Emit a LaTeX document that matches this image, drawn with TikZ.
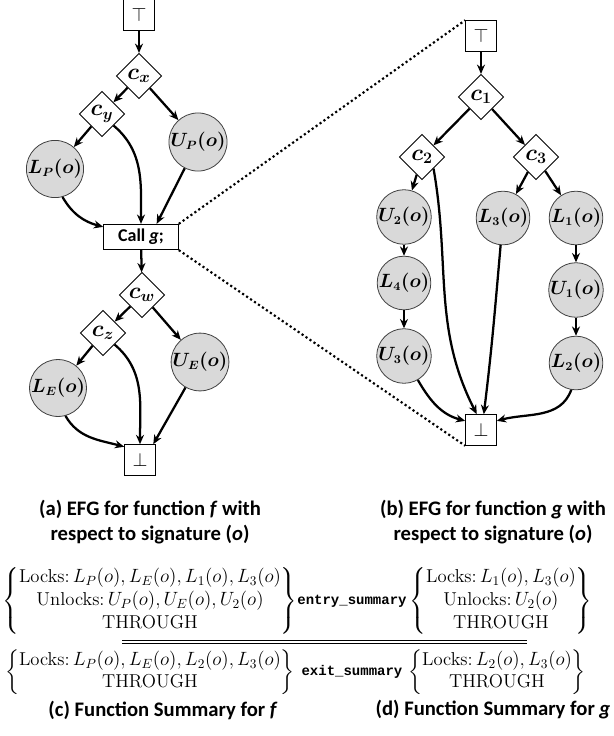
\documentclass[tikz,border=0pt]{standalone}
\usepackage{amsmath, amssymb}
\usepackage{fontspec}
\setsansfont{Carlito}
\setmonofont{Liberation Mono}
\usetikzlibrary{arrows.meta, shapes.geometric}

\begin{document}
\begin{tikzpicture}[x=0.75pt, y=0.75pt, >={Stealth[length=7pt, width=6pt]},
  flow/.style={->, line width=1.7pt},
  cond/.style={diamond, draw, line width=0.6pt, fill=white, inner sep=0pt, minimum size=34pt, font=\fontsize{18}{18}\selectfont\boldmath},
  lockop/.style={circle, draw=black!75, line width=0.6pt, fill=black!15, inner sep=0pt, minimum size=39pt, font=\fontsize{13.5}{13.5}\selectfont\boldmath},
  term/.style={rectangle, draw, line width=0.7pt, inner sep=0pt, minimum size=23pt, font=\Large},
  callbox/.style={rectangle, draw, line width=0.7pt, inner sep=0pt, minimum width=56pt, minimum height=19pt, font=\sffamily\bfseries\fontsize{13.5}{13.5}\selectfont},
  caption/.style={align=center, inner sep=0pt, font=\sffamily\bfseries\fontsize{15.5}{19}\selectfont},
  summary/.style={inner sep=0pt, font=\fontsize{14}{17}\selectfont},
  sumlabel/.style={inner sep=0pt, font=\ttfamily\bfseries\fontsize{10.5}{10.5}\selectfont}]
\useasboundingbox (0,0) rectangle (614,-736);

\node[term] (ftop) at (139,-15) {$\top$};
\node[cond] (cx) at (139,-76) {$c_x$};
\node[cond] (cy) at (102,-114) {$c_y$};
\node[lockop] (up) at (198,-142) {$U_P(o)$};
\node[lockop] (lp) at (55,-169) {$L_P(o)$};
\node[callbox] (call) at (141,-237) {Call \textit{g};};
\node[cond] (cw) at (142,-295) {$c_w$};
\node[cond] (cz) at (103,-333) {$c_z$};
\node[lockop] (ue) at (200,-362) {$U_E(o)$};
\node[lockop] (le) at (58,-388) {$L_E(o)$};
\node[term] (fbot) at (140,-460) {$\bot$};

\draw[flow] (ftop) -- (cx);
\draw[flow] (cx) -- (cy);
\draw[flow] (cx) -- (up);
\draw[flow] (cy) -- (lp);
\draw[flow] (cy.south east) to[out=-40, in=90] (call.north);
\draw[flow] (lp.-75) to[out=-60, in=165] (call.165);
\draw[flow] (up) -- (call.40);
\draw[flow] (call) -- (cw);
\draw[flow] (cw) -- (cz);
\draw[flow] (cw) -- (ue);
\draw[flow] (cz) -- (le);
\draw[flow] (cz.south east) to[out=-40, in=90] (fbot.north);
\draw[flow] (le.-75) to[out=-60, in=165] (fbot.140);
\draw[flow] (ue) -- (fbot.50);

\node[term] (gtop) at (481,-36) {$\top$};
\node[cond] (c1) at (481,-97) {$c_1$};
\node[cond] (c2) at (422,-157) {$c_2$};
\node[cond] (c3) at (536,-157) {$c_3$};
\node[lockop] (u2) at (404,-217) {$U_2(o)$};
\node[lockop] (l3) at (503,-218) {$L_3(o)$};
\node[lockop] (l1) at (576,-218) {$L_1(o)$};
\node[lockop] (l4) at (404,-283) {$L_4(o)$};
\node[lockop] (u1) at (576,-290) {$U_1(o)$};
\node[lockop] (u3) at (404,-356) {$U_3(o)$};
\node[lockop] (l2) at (576,-363) {$L_2(o)$};
\node[term] (gbot) at (481,-430) {$\bot$};

\draw[flow] (gtop) -- (c1);
\draw[flow] (c1) -- (c2);
\draw[flow] (c1) -- (c3);
\draw[flow] (c2) -- (u2);
\draw[flow] (c3) -- (l3);
\draw[flow] (c3) -- (l1);
\draw[flow] (u2) -- (l4);
\draw[flow] (l4) -- (u3);
\draw[flow] (l1) -- (u1);
\draw[flow] (u1) -- (l2);
\draw[flow] (c2.south east) to[out=-80, in=117] (gbot.105);
\draw[flow] (l3) to[out=-95, in=83] (gbot.80);
\draw[flow] (u3.-60) to[out=-60, in=165] (gbot.150);
\draw[flow] (l2.-100) to[out=-110, in=15] (gbot.30);

\draw[dotted, line width=1.6pt] (call.north east) -- (gtop.north west);
\draw[dotted, line width=1.6pt] (call.south east) -- (gbot.south west);

\node[caption] (capa) at (150,-522) {(a) EFG for function \textit{f} with\\respect to signature (\textit{o})};
\node[caption] (capb) at (493,-522) {(b) EFG for function \textit{g} with\\respect to signature (\textit{o})};

\node[summary] (fentry) at (150,-601) {$\left\{\begin{array}{@{}c@{}}
  \text{Locks:}\,L_P(o), L_E(o), L_1(o), L_3(o)\\
  \text{Unlocks:}\,U_P(o), U_E(o), U_2(o)\\
  \text{THROUGH}\end{array}\right\}$};
\node[sumlabel] (entrylbl) at (352,-601) {entry\_summary};
\node[summary] (gentry) at (501,-601) {$\left\{\begin{array}{@{}c@{}}
  \text{Locks:}\,L_1(o), L_3(o)\\
  \text{Unlocks:}\,U_2(o)\\
  \text{THROUGH}\end{array}\right\}$};

\coordinate (ruleL) at (122,-642);
\coordinate (ruleR) at (527,-642);
\draw[double, double distance=2.2pt, line width=0.7pt] (ruleL) -- (ruleR);

\node[summary] (fexit) at (150,-672) {$\left\{\begin{array}{@{}c@{}}
  \text{Locks:}\,L_P(o), L_E(o), L_2(o), L_3(o)\\
  \text{THROUGH}\end{array}\right\}$};
\node[sumlabel] (exitlbl) at (352,-672) {exit\_summary};
\node[summary] (gexit) at (497,-672) {$\left\{\begin{array}{@{}c@{}}
  \text{Locks:}\,L_2(o), L_3(o)\\
  \text{THROUGH}\end{array}\right\}$};

\node[caption] (capc) at (163,-710) {(c) Function Summary for \textit{f}};
\node[caption] (capd) at (493,-710) {(d) Function Summary for \textit{g}};
\end{tikzpicture}
\end{document}
